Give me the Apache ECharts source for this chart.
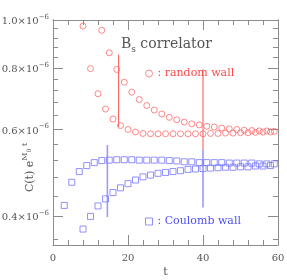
<!DOCTYPE html>
<html>
<head>
<meta charset="utf-8">
<style>html,body{margin:0;padding:0;background:#fff;}#c{width:287px;height:280px;}</style>
<script src="https://cdn.jsdelivr.net/npm/echarts@6/dist/echarts.min.js"></script>
</head>
<body>
<div id="c"></div>
<script>
// t values and C(t) e^{M0 t} values in units of 1e-6
var tRedEven = [8,10,12,14,16,18,20,22,24,26,28,30,32,34,36,38,40,42,44,46,48,50,52,54,56,58];
var redEven  = [0.972,0.797,0.709,0.660,0.630,0.611,0.600,0.593,0.589,0.588,0.588,0.588,0.588,0.588,0.588,0.588,0.588,0.589,0.589,0.590,0.590,0.591,0.591,0.592,0.593,0.593];
var tRedOdd  = [13,15,17,19,21,23,25,27,29,31,33,35,37,39,41,43,45,47,49,51,53,55,57,59];
var redOdd   = [0.953,0.858,0.794,0.748,0.714,0.690,0.671,0.657,0.645,0.635,0.628,0.621,0.616,0.613,0.609,0.607,0.604,0.602,0.600,0.598,0.597,0.596,0.596,0.595];
var tBlueOdd = [3,5,7,9,11,13,15,17,19,21,23,25,27,29,31,33,35,37,39,41,43,45,47,49,51,53,55,57,59];
var blueOdd  = [0.421,0.469,0.493,0.507,0.514,0.519,0.520,0.521,0.521,0.521,0.520,0.520,0.520,0.520,0.519,0.518,0.516,0.516,0.514,0.514,0.514,0.514,0.513,0.513,0.513,0.513,0.511,0.511,0.511];
var tBlueEven = [8,10,12,14,16,18,20,22,24,26,28,30,32,34,36,38,40,42,44,46,48,50,52,54,56,58];
var blueEven  = [0.377,0.400,0.420,0.434,0.447,0.457,0.466,0.474,0.481,0.485,0.489,0.491,0.493,0.495,0.498,0.499,0.500,0.501,0.502,0.503,0.503,0.504,0.504,0.506,0.506,0.507];
// vertical marker lines: [t, top, bottom]
var redMarks  = [[17.5,0.851,0.607],[40,0.794,0.545]];
var blueMarks = [[14.5,0.558,0.399],[40,0.545,0.417]];
var yMajor = [0.4,0.6,0.8,1.0];
var yMinor = [0.36,0.44,0.48,0.52,0.56,0.64,0.68,0.72,0.76,0.84,0.88,0.92,0.96];

function pairs(ts, vs){ return ts.map(function(t,i){ return [t, vs[i]]; }); }
var FONT = 'DejaVu Serif';
var AX = '#8c8c8c';
var RED = '#ff6a6a';
var BLUE = '#7676ff';

function yAx(pos, ticks, major, labels){
  return {
    type:'log', logBase:10, min:0.35, max:1.0, position:pos,
    axisLine:{show:true, lineStyle:{color:AX, width:1}},
    axisTick:{show:true, inside:true, length: major?10:5, customValues: ticks, lineStyle:{color:AX}},
    axisLabel:{show:!!labels, customValues: ticks, margin:4, fontFamily:FONT,
      formatter:function(v){ return '{a|'+v.toFixed(1)+'×10}{s|−6}'; },
      rich:{a:{fontFamily:FONT,fontSize:10,color:'#555',verticalAlign:'bottom'},
            s:{fontFamily:FONT,fontSize:7,color:'#555',verticalAlign:'bottom',padding:[0,0,6,0]}}},
    splitLine:{show:false}, minorTick:{show:false}, minorSplitLine:{show:false}
  };
}
function xAx(pos, labels){
  return {
    type:'value', min:0, max:60, interval:20, position:pos,
    axisLine:{show:true, lineStyle:{color:AX}},
    axisTick:{show:true, inside:true, length:10, lineStyle:{color:AX}},
    minorTick:{show:true, splitNumber:5, length:5, lineStyle:{color:AX}},
    axisLabel:{show:labels, margin:8, fontFamily:FONT, fontSize:10, color:'#555'},
    splitLine:{show:false}
  };
}
var xa0 = xAx('bottom', true);
xa0.name = 't'; xa0.nameLocation='middle'; xa0.nameGap=22; xa0.nameMoveOverlap=false;
xa0.nameTextStyle = {fontFamily:FONT, fontSize:11, color:'#555'};
var ya0 = yAx('left', yMajor, true, true);
ya0.name = '{m|C(t) e}{sup|M}{sub|0}{sup| t}';
ya0.nameLocation = 'middle'; ya0.nameGap = 17; ya0.nameRotate = 90; ya0.nameMoveOverlap = false;
ya0.nameTextStyle = {fontFamily:FONT, color:'#555', padding:[0,70,0,0], rich:{
  m:{fontFamily:FONT,fontSize:11,color:'#555',verticalAlign:'bottom'},
  sup:{fontFamily:FONT,fontSize:8,color:'#555',verticalAlign:'bottom',padding:[0,0,7,0]},
  sub:{fontFamily:FONT,fontSize:6,color:'#555',verticalAlign:'bottom',padding:[0,0,4,0]}}};

function markSeries(marks, color, width){
  return marks.map(function(m){
    return {type:'line', xAxisIndex:0, yAxisIndex:0, data:[[m[0],m[1]],[m[0],m[2]]],
      symbol:'none', lineStyle:{color:color, width:width}, silent:true, z:1};
  });
}

var series = [
  {name:'random wall', type:'scatter', data:pairs(tRedEven, redEven), symbol:'circle', symbolSize:6,
   itemStyle:{color:'rgba(255,255,255,0)', borderColor:RED, borderWidth:1}},
  {name:'random wall b', type:'scatter', data:pairs(tRedOdd, redOdd), symbol:'circle', symbolSize:6,
   itemStyle:{color:'rgba(255,255,255,0)', borderColor:RED, borderWidth:1}},
  {name:'Coulomb wall', type:'scatter', data:pairs(tBlueOdd, blueOdd), symbol:'rect', symbolSize:6,
   itemStyle:{color:'rgba(255,255,255,0)', borderColor:BLUE, borderWidth:1}},
  {name:'Coulomb wall b', type:'scatter', data:pairs(tBlueEven, blueEven), symbol:'rect', symbolSize:6,
   itemStyle:{color:'rgba(255,255,255,0)', borderColor:BLUE, borderWidth:1}}
].concat(markSeries(redMarks, '#ff5050', 1)).concat(markSeries(blueMarks, '#9a9aff', 1.6));

var chart = echarts.init(document.getElementById('c'), null, {renderer:'canvas'});
chart.setOption({
  animation:false,
  backgroundColor:'#fff',
  grid:{left:53, right:9, top:20, bottom:35, outerBoundsMode:'none'},
  title:{text:'{b|B}{s|s}{b| correlator}', left:116, top:32, textStyle:{fontWeight:'normal', rich:{
    b:{fontFamily:FONT,fontSize:14,fontWeight:'normal',color:'#555',verticalAlign:'bottom'},
    s:{fontFamily:FONT,fontSize:9,fontWeight:'normal',color:'#555',verticalAlign:'bottom',padding:[0,0,-3,0]}}}},
  legend:[
    {data:['random wall'], left:140, top:63, itemWidth:7, itemHeight:7, icon:'circle',
     itemStyle:{color:'rgba(255,255,255,0)', borderColor:RED, borderWidth:1},
     formatter:function(){return ': random wall';}, selectedMode:false,
     textStyle:{fontFamily:FONT, fontSize:11, color:'#ff4848'}},
    {data:['Coulomb wall'], left:140, top:211, itemWidth:7, itemHeight:7, icon:'rect',
     itemStyle:{color:'rgba(255,255,255,0)', borderColor:BLUE, borderWidth:1},
     formatter:function(){return ': Coulomb wall';}, selectedMode:false,
     textStyle:{fontFamily:FONT, fontSize:11, color:'#5050ff'}}
  ],
  xAxis:[xa0, xAx('top', false)],
  yAxis:[ya0, yAx('left', yMinor, false, false), yAx('right', yMajor, true, false), yAx('right', yMinor, false, false)],
  series:series
});
</script>
</body>
</html>
